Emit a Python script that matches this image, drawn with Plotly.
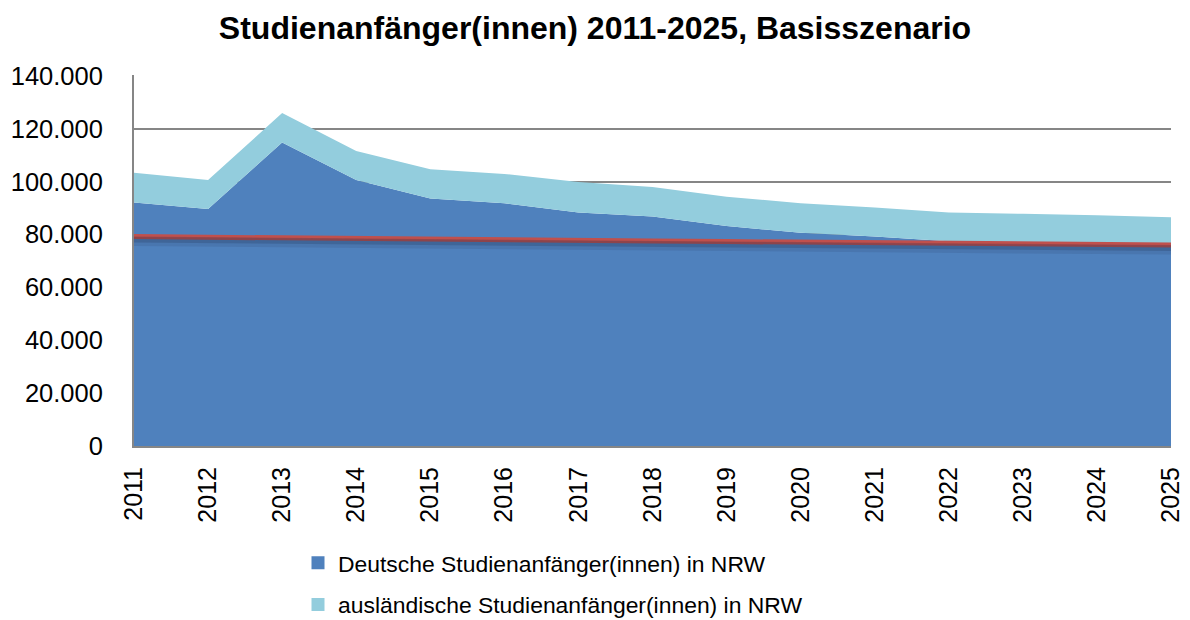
import plotly.graph_objects as go

years = [2011, 2012, 2013, 2014, 2015, 2016, 2017, 2018, 2019, 2020, 2021, 2022, 2023, 2024, 2025]
deutsche = [92100, 89600, 114800, 100600, 93600, 91800, 88300, 86800, 83200, 80600, 79200, 77400, 76700, 76100, 75600]
auslaendische = [11200, 11000, 11100, 11000, 11100, 11100, 11500, 11100, 11100, 11200, 11000, 10900, 11100, 11200, 10900]
referenz = [79200, 78900, 78700, 78500, 78200, 78000, 77800, 77500, 77300, 77100, 76900, 76700, 76400, 76200, 76000]
y_ticks = [0, 20000, 40000, 60000, 80000, 100000, 120000, 140000]
y_ticklabels = ["0", "20.000", "40.000", "60.000", "80.000", "100.000", "120.000", "140.000"]

names = ["Deutsche Studienanfänger(innen) in NRW", "ausländische Studienanfänger(innen) in NRW"]
colors = ["#4F81BD", "#93CDDD"]

FONT = "Liberation Sans, Arial, sans-serif"

fig = go.Figure()
fig.add_trace(go.Scatter(
    x=years, y=deutsche, name=names[0], showlegend=False,
    stackgroup="one", mode="none", fillcolor=colors[0]))
fig.add_trace(go.Scatter(
    x=years, y=auslaendische, name=names[1], showlegend=False,
    stackgroup="one", mode="none", fillcolor=colors[1]))
# soft shadow of the red line (same data, drawn on slightly shifted axes)
fig.add_trace(go.Scatter(
    x=years, y=referenz, mode="lines", yaxis="y3", showlegend=False, hoverinfo="skip",
    line=dict(color="rgba(30,45,75,0.12)", width=9)))
fig.add_trace(go.Scatter(
    x=years, y=referenz, mode="lines", yaxis="y2", showlegend=False, hoverinfo="skip",
    line=dict(color="rgba(30,45,75,0.22)", width=6)))
fig.add_trace(go.Scatter(
    x=years, y=referenz, mode="lines", name="Referenz", showlegend=False,
    line=dict(color="#C0504D", width=5)))
# legend entries with square symbols
for i, (n, c) in enumerate(zip(names, colors)):
    fig.add_trace(go.Scatter(
        x=[None], y=[None], mode="markers", name=n, legendgroup=f"g{i}",
        marker=dict(symbol="square", size=13, color=c)))

ymax = 140300
px = ymax / 371
fig.update_layout(
    width=1190, height=620,
    paper_bgcolor="white", plot_bgcolor="white",
    margin=dict(l=134, r=19, t=75, b=174, autoexpand=False),
    title=dict(text="<b>Studienanfänger(innen) 2011-2025, Basisszenario</b>",
               x=0.5, xanchor="center", y=0.9555, yanchor="middle",
               font=dict(family=FONT, size=32, color="black")),
    font=dict(family=FONT, size=24, color="black"),
    xaxis=dict(range=[2011, 2025], tickmode="array", tickvals=years,
               ticktext=[str(y) for y in years], tickangle=-90,
               showgrid=False, showline=True, linecolor="#868686", linewidth=2,
               ticks="", tickfont=dict(size=25), zeroline=False,
               automargin=False, ticklabelstandoff=9),
    yaxis=dict(range=[0, ymax], tickmode="array", tickvals=y_ticks,
               ticktext=y_ticklabels, showgrid=True, gridcolor="#868686",
               gridwidth=2, showline=True, linecolor="#868686", linewidth=2,
               ticks="", tickfont=dict(size=25.5), zeroline=False,
               automargin=False, ticklabelstandoff=24),
    yaxis2=dict(range=[3 * px, ymax + 3 * px], overlaying="y", visible=False),
    yaxis3=dict(range=[5 * px, ymax + 5 * px], overlaying="y", visible=False),
    legend=dict(x=(298 - 134) / 1037, xanchor="left", y=-0.257, yanchor="top",
                font=dict(family=FONT, size=22.9, color="black"),
                traceorder="grouped", tracegroupgap=9, bgcolor="rgba(0,0,0,0)"),
    showlegend=True,
)

post = ("var gd=document.getElementById('{plot_id}');"
        "document.documentElement.style.margin='0';"
        "document.body.style.margin='0';"
        "document.documentElement.style.overflow='hidden';"
        "document.body.style.overflow='hidden';"
        "gd.style.position='fixed';gd.style.left='0px';gd.style.top='0px';")

fig.write_html("out.html", config={"displayModeBar": False}, post_script=post)
